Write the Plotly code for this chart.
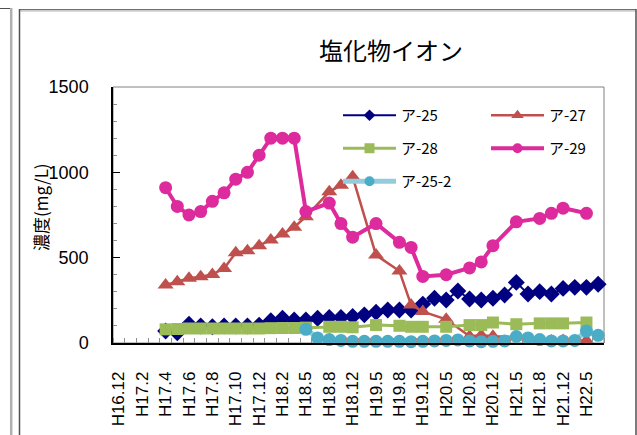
import plotly.graph_objects as go

# ---------------- data ----------------
categories = [
    "H16.12", "H17.1", "H17.2", "H17.3", "H17.4", "H17.5", "H17.6", "H17.7",
    "H17.8", "H17.9", "H17.10", "H17.11", "H17.12", "H18.1", "H18.2", "H18.3",
    "H18.5", "H18.6", "H18.8", "H18.10", "H18.12", "H19.2", "H19.5", "H19.7",
    "H19.8", "H19.10", "H19.12", "H20.2", "H20.5", "H20.7", "H20.8", "H20.10",
    "H20.12", "H21.2", "H21.5", "H21.7", "H21.8", "H21.10", "H21.12", "H22.2",
    "H22.5", "H22.7",
]
N = None
a25 = [N, N, N, N, 70, 60, 110, 100, 95, 100, 100, 100, 105, 130, 145, 135,
       135, 145, 150, 150, 155, 165, 180, 193, 193, 193, 228, 262, 252, 305, 258, 252,
       262, 281, 355, 287, 301, 287, 320, 326, 326, 344]
a27 = [N, N, N, N, 340, 359, 379, 388, 402, 437, 529, 541, 570, 603, 638, 678,
       740, N, 886, 925, 974, N, 515, N, 422, 223, 184, N, 139, N, 40, 45,
       40, N, 35, N, 12, 12, 15, N, 15, N]
a28 = [N, N, N, N, 80, 82, 85, 85, 85, 85, 85, 85, 85, 87, 88, 88,
       90, N, 95, 95, 92, N, 105, N, 101, 95, 95, N, 95, N, 105, 105,
       120, N, 110, N, 115, 115, 115, N, 120, N]
a29 = [N, N, N, N, 910, 800, 750, 770, 830, 880, 960, 1000, 1100, 1200, 1200, 1200,
       770, N, 820, 700, 620, N, 700, N, 590, 560, 390, N, 400, N, 440, 475,
       570, N, 710, N, 730, 760, 790, N, 760, N]
a25_2 = [N, N, N, N, N, N, N, N, N, N, N, N, N, N, N, N,
         80, 30, 20, 15, 10, 10, 10, 10, 10, 8, 10, 12, 15, 18, 12, 8,
         10, 12, 38, 30, 20, 12, 12, 15, 70, 45]

series_names = ["ア-25", "ア-27", "ア-28", "ア-29", "ア-25-2"]
yticks = [0, 500, 1000, 1500]

# ---------------- layout geometry ----------------
W, H = 637, 435
L, R, T, B = 113, 604, 87, 343


def px2x(px):
    return (px - L) / (R - L)


def py2y(py):
    return (B - py) / (B - T)


xidx = list(range(len(categories)))
label_idx = xidx[::2]

JP = "Noto Sans CJK JP, Liberation Sans, sans-serif"
NUM = "Liberation Sans, Arial, sans-serif"

fig = go.Figure()

styles = [
    dict(color="#000080", lw=2, sym="diamond", ms=13, mc="#000080", lms=9, lg="legend"),
    dict(color="#C0504D", lw=2.5, sym="triangle-up", ms=14, mc="#C0504D", lms=11, lg="legend2"),
    dict(color="#9BBB59", lw=3, sym="square", ms=12, mc="#9BBB59", lms=10, lg="legend"),
    dict(color="#DD2A9C", lw=4, sym="circle", ms=13, mc="#DD2A9C", lms=10, lg="legend2"),
    dict(color="#93CDDD", lw=5, sym="circle", ms=13, mc="#4BACC6", lms=10, lg="legend"),
]

for name, vals, st in zip(series_names, [a25, a27, a28, a29, a25_2], styles):
    fig.add_trace(go.Scatter(
        x=xidx, y=vals, name=name, mode="lines+markers",
        line=dict(color=st["color"], width=st["lw"]),
        marker=dict(symbol=st["sym"], size=st["ms"], color=st["mc"]),
        connectgaps=True, cliponaxis=False, showlegend=False,
        legendgroup=name,
    ))

# legend entries (same styling, smaller legend markers as in the original)
for name, st in zip(series_names, styles):
    fig.add_trace(go.Scatter(
        x=[None], y=[None], name=name, mode="lines+markers",
        line=dict(color=st["color"], width=st["lw"]),
        marker=dict(symbol=st["sym"], size=st["lms"], color=st["mc"]),
        legend=st["lg"], legendgroup=name, showlegend=True,
    ))

shapes = [
    # plot area border
    dict(type="rect", xref="paper", yref="paper", x0=0, x1=1, y0=0, y1=1,
         line=dict(color="#808080", width=1), layer="below"),
    # outer chart frame
    dict(type="line", xref="paper", yref="paper", x0=px2x(19), x1=px2x(636),
         y0=py2y(9.5), y1=py2y(9.5), line=dict(color="#707070", width=1)),
    dict(type="line", xref="paper", yref="paper", x0=px2x(19), x1=px2x(636),
         y0=py2y(10.8), y1=py2y(10.8), line=dict(color="#b8b8b8", width=1.2)),
    dict(type="line", xref="paper", yref="paper", x0=px2x(19.5), x1=px2x(19.5),
         y0=py2y(9), y1=py2y(440), line=dict(color="#505050", width=1.5)),
    dict(type="line", xref="paper", yref="paper", x0=px2x(636), x1=px2x(636),
         y0=py2y(9), y1=py2y(440), line=dict(color="#505050", width=1.5)),
    # neighbouring frame at far left
    dict(type="line", xref="paper", yref="paper", x0=px2x(0), x1=px2x(11),
         y0=py2y(8.5), y1=py2y(8.5), line=dict(color="#505050", width=1)),
    dict(type="line", xref="paper", yref="paper", x0=px2x(11.2), x1=px2x(11.2),
         y0=py2y(8), y1=py2y(440), line=dict(color="#b0b0b0", width=2.5)),
]

legend_common = dict(
    xanchor="left", yanchor="top", bgcolor="rgba(0,0,0,0)",
    font=dict(family=JP, size=15, color="#000"), tracegroupgap=10.5,
    itemwidth=53, orientation="v", traceorder="grouped",
)

fig.update_layout(
    width=W, height=H,
    margin=dict(l=L, r=W - R, t=T, b=H - B, pad=0),
    paper_bgcolor="white", plot_bgcolor="white",
    showlegend=True,
    title=dict(text="塩化物イオン", font=dict(family=JP, size=24, color="#000"),
               xref="paper", x=px2x(391), xanchor="center",
               yref="container", y=1 - 52 / H, yanchor="middle"),
    xaxis=dict(
        range=[-0.5, len(categories) - 0.5], tickmode="array",
        tickvals=label_idx, ticktext=[categories[i] for i in label_idx],
        tickangle=-90, ticks="", showgrid=False, zeroline=False,
        showline=True, linecolor="#000", linewidth=1.5,
        tickfont=dict(family=NUM, size=17, color="#000"),
        ticklabelstandoff=20, automargin=False,
        minor=dict(tick0=0.5, dtick=1, ticks="inside", ticklen=5,
                   tickcolor="#909090", showgrid=False),
    ),
    yaxis=dict(
        range=[0, 1500], tickmode="array", tickvals=yticks,
        ticks="inside", ticklen=7, tickcolor="#000", tickwidth=1.2,
        showgrid=False, zeroline=False,
        showline=True, linecolor="#000", linewidth=1.5,
        tickfont=dict(family=NUM, size=18, color="#000"),
        ticklabelstandoff=19, automargin=False,
        minor=dict(dtick=100, ticks="inside", ticklen=4, tickcolor="#909090",
                   showgrid=False),
    ),
    legend=dict(x=px2x(338), y=py2y(99), **legend_common),
    legend2=dict(x=px2x(486), y=py2y(99), **legend_common),
    shapes=shapes,
    annotations=[
        dict(text="濃度(mg/L)", xref="paper", yref="paper",
             x=px2x(40), y=py2y(207), xanchor="center", yanchor="middle",
             textangle=-90, showarrow=False,
             font=dict(family=JP, size=17, color="#000")),
    ],
)

fig.write_html("out.html", config={"displayModeBar": False},
               post_script="document.body.style.margin='0';document.body.style.overflow='hidden';")
